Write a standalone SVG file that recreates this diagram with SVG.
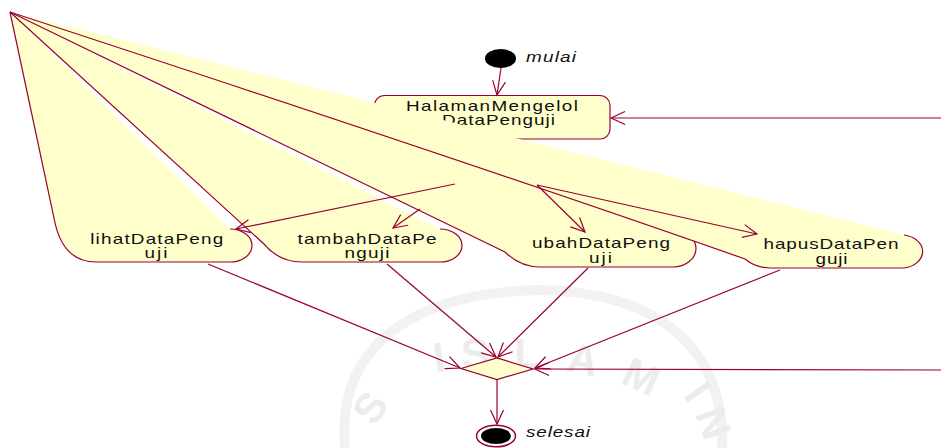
<svg xmlns="http://www.w3.org/2000/svg" width="941" height="448" viewBox="0 0 941 448">
<defs>
<style>
.nf{fill:#FFFFCC;stroke:none}
.ns{fill:none;stroke:#990033;stroke-width:1.2}
.box{fill:#FFFFCC;stroke:#990033;stroke-width:1.2}
.c{fill:none;stroke:#990033;stroke-width:1.2;marker-end:url(#ah)}
.t{font-family:"Liberation Sans",Arial,sans-serif;font-size:14px;fill:#111;text-anchor:middle}
.i{font-style:italic}
.wm{font-family:"Liberation Sans",Arial,sans-serif;font-size:42px;font-weight:bold;fill:#ECECEC;text-anchor:middle}
</style>
<marker id="ah" viewBox="-15 -8 17 16" refX="0" refY="0" markerWidth="17" markerHeight="16" markerUnits="userSpaceOnUse" orient="auto" overflow="visible">
<path d="M-14,-6.5 L0,0 L-14,6.5" fill="none" stroke="#990033" stroke-width="1.2"/>
</marker>
</defs>
<rect width="941" height="448" fill="#fff"/>

<g id="watermark">
<path d="M345,448 C335,335 430,292 540,290 C655,292 725,345 722,448" fill="none" stroke="#F2F2F2" stroke-width="10"/>
<text class="wm" font-size="42" x="441" y="372" transform="rotate(-8 441 372)">I</text>
<text class="wm" font-size="42" x="476" y="368" transform="rotate(-4 476 368)">S</text>
<text class="wm" font-size="42" x="527" y="368">L</text>
<text class="wm" font-size="42" x="580" y="374" transform="rotate(12 580 374)">A</text>
<text class="wm" font-size="42" x="635" y="390" transform="rotate(25 635 390)">M</text>
<text class="wm" font-size="42" x="382" y="416" transform="rotate(-55 382 416)">S</text>
<text class="wm" font-size="42" x="686" y="400" transform="rotate(55 686 400)">I</text>
<text class="wm" font-size="36" x="700" y="428" transform="rotate(70 700 428)">N</text>
</g>

<g id="mulai">
<ellipse cx="500.5" cy="58.5" rx="15.5" ry="9.5" fill="#000"/>
<text class="t i" transform="translate(551,61.5) scale(1.35,1)" textLength="37" lengthAdjust="spacing">mulai</text>
</g>

<g id="halaman">
<rect class="box" x="374.5" y="95.5" width="235.5" height="43.5" rx="10" ry="10"/>
<text class="t" transform="translate(492,110.5) scale(1.35,1)" textLength="127.4" lengthAdjust="spacing">HalamanMengelol</text>
<text class="t" transform="translate(498.5,125.3) scale(1.35,1)" textLength="83.7" lengthAdjust="spacing">DataPenguji</text>
</g>

<g id="lihat">
<path class="nf" d="M10,12 L54,218 Q62,262 96,262 H230 A22,16.5 0 0 0 230,229 Z"/>
<path class="ns" d="M10,12 L54,218 Q62,262 96,262 H230 A22,16.5 0 0 0 230,229"/>
<text class="t" transform="translate(156.7,243.6) scale(1.35,1)" textLength="98.5" lengthAdjust="spacing">lihatDataPeng</text>
<text class="t" transform="translate(156,258.4) scale(1.35,1)" textLength="17" lengthAdjust="spacing">uji</text>
</g>

<g id="tambah">
<path class="nf" d="M10,12 L264,244 Q279,262 302,262 H440 A22,16.5 0 0 0 440,229 Z"/>
<path class="ns" d="M10,12 L264,244 Q279,262 302,262 H440 A22,16.5 0 0 0 440,229"/>
<text class="t" transform="translate(367,243.6) scale(1.35,1)" textLength="103" lengthAdjust="spacing">tambahDataPe</text>
<text class="t" transform="translate(367,258.4) scale(1.35,1)" textLength="33.3" lengthAdjust="spacing">nguji</text>
</g>

<g id="ubah">
<path class="nf" d="M10,12 L505,252 Q520,267 540,267 H673 A23,18.5 0 0 0 673,230 Z"/>
<path class="ns" d="M10,12 L505,252 Q520,267 540,267 H673 A23,18.5 0 0 0 673,230"/>
<text class="t" transform="translate(601,247.9) scale(1.35,1)" textLength="102.2" lengthAdjust="spacing">ubahDataPeng</text>
<text class="t" transform="translate(600.5,262.7) scale(1.35,1)" textLength="17" lengthAdjust="spacing">uji</text>
</g>

<g id="hapus">
<path class="nf" d="M10,12 C300,107 600,208 745,259 Q756,268 770,268 H904 A22,16.7 0 0 0 904,235 Z"/>
<path class="ns" d="M10,12 C300,107 600,208 745,259 Q756,268 770,268 H904 A22,16.7 0 0 0 904,235"/>
<text class="t" transform="translate(831,249.4) scale(1.35,1)" textLength="100" lengthAdjust="spacing">hapusDataPen</text>
<text class="t" transform="translate(831.5,264.2) scale(1.35,1)" textLength="23.7" lengthAdjust="spacing">guji</text>
</g>

<g id="decision">
<polygon class="box" points="461,368.5 497,358 533,369 497,379.5"/>
</g>

<g id="selesai">
<ellipse cx="496" cy="436" rx="19.5" ry="10.8" fill="#fff" stroke="#990033" stroke-width="1.5"/>
<ellipse cx="496" cy="436" rx="15" ry="8" fill="#000"/>
<text class="t i" transform="translate(558,436.7) scale(1.35,1)" textLength="47.4" lengthAdjust="spacing">selesai</text>
</g>

<g id="connectors">
<path class="c" d="M501,68 L497,95"/>
<path class="c" d="M941,118 L611,118"/>
<path class="c" d="M455,184 L236,229"/>
<path class="c" d="M420,209 L393,228"/>
<path class="c" d="M537,185 L585,232"/>
<path class="c" d="M537,185 L757,234"/>
<path class="c" d="M208,264 L460,368"/>
<path class="c" d="M387,264 L496,357"/>
<path class="c" d="M588,268 L498,357"/>
<path class="c" d="M780,270 L535,368"/>
<path class="c" d="M941,370 L535,369"/>
<path class="c" d="M497,380 L497,424"/>
</g>
</svg>
